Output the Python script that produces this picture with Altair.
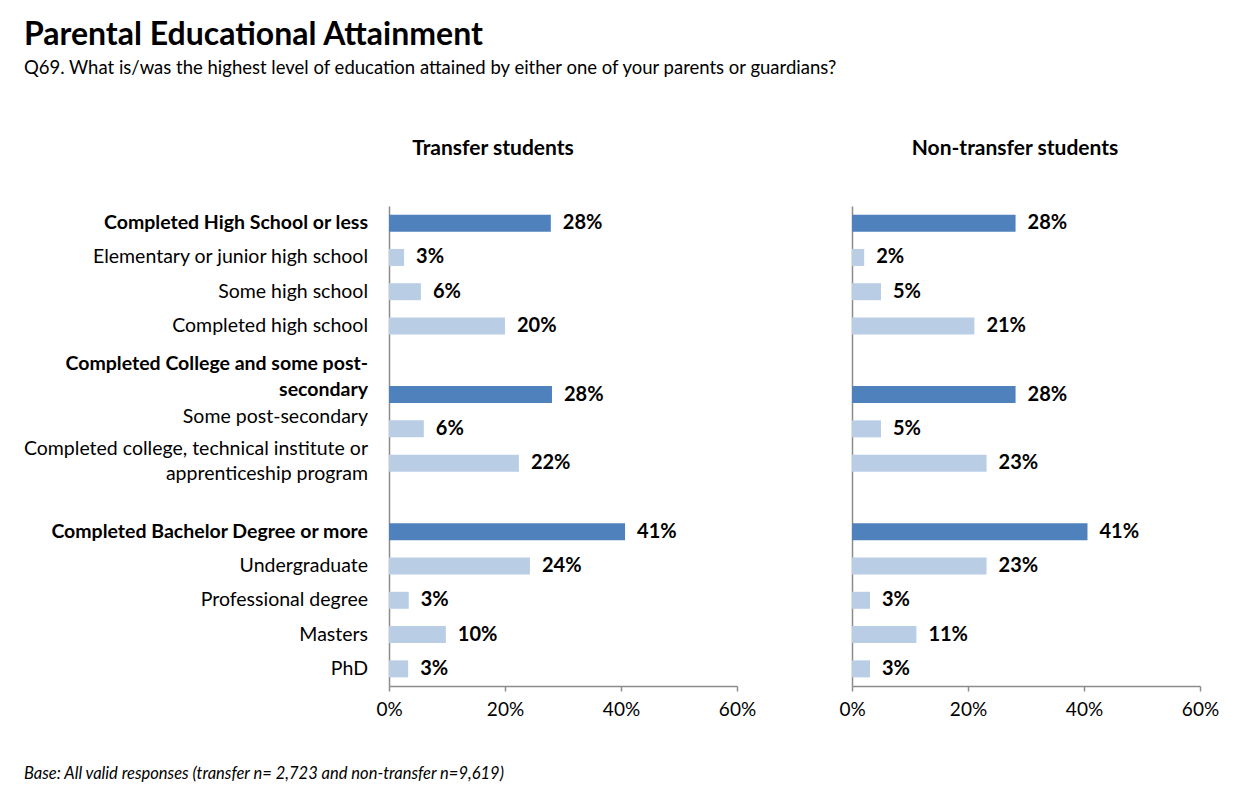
import altair as alt
import pandas as pd

labels = [
    "Completed High School or less",
    "Elementary or junior high school",
    "Some high school",
    "Completed high school",
    "Completed College and some post-secondary",
    "Some post-secondary",
    "Completed college, technical institute or apprenticeship program",
    "Completed Bachelor Degree or more",
    "Undergraduate",
    "Professional degree",
    "Masters",
    "PhD",
]
display_labels = [
    "Completed High School or less",
    "Elementary or junior high school",
    "Some high school",
    "Completed high school",
    "Completed College and some post-|secondary",
    "Some post-secondary",
    "Completed college, technical institute or|apprenticeship program",
    "Completed Bachelor Degree or more",
    "Undergraduate",
    "Professional degree",
    "Masters",
    "PhD",
]
is_header = [True, False, False, False, True, False, False, True, False, False, False, False]
transfer = [27.9, 2.6, 5.5, 20.0, 28.1, 6.0, 22.4, 40.7, 24.3, 3.4, 9.8, 3.3]
nontransfer = [28.2, 2.1, 5.0, 21.1, 28.2, 5.0, 23.2, 40.6, 23.2, 3.1, 11.1, 3.1]
x_ticks = [0, 20, 40, 60]

slot_order = labels[:4] + ["gap1"] + labels[4:7] + ["gap2"] + labels[7:]

FONT = "Lato"
W, H = 348, 480
LABEL_FS = 19.5
VALUE_FS = 20

def make_df(values):
    return pd.DataFrame({"cat": labels, "header": is_header, "v": values})

# one row per printed line of category label
line_rows = []
for idx, (cat, disp, hdr) in enumerate(zip(labels, display_labels, is_header)):
    parts = disp.split("|")
    for i, p in enumerate(parts):
        line_rows.append({"cat": cat, "idx": idx, "line": p, "header": hdr, "i": i, "n": len(parts)})
lines_df = pd.DataFrame(line_rows)

def line_dy(r):
    if r["n"] == 1:
        # label sitting just above a wrapped label is nudged up, as in the source
        nxt = r["idx"] + 1
        if nxt < len(labels) and "|" in display_labels[nxt] and not is_header[nxt]:
            return -12
        return 0
    if r["header"]:  # header wraps upward, last line sits just above the bar
        return [-31, -5][r["i"]]
    return [-14, 11][r["i"]]

y_scale = alt.Scale(domain=slot_order, paddingInner=0.5, paddingOuter=0.25)
y_enc = alt.Y(
    "cat:N",
    scale=y_scale,
    axis=alt.Axis(labels=False, ticks=False, title=None, domainColor="#8c8c8c", domainWidth=1.5),
)
x_enc = alt.X(
    "v:Q",
    scale=alt.Scale(domain=[0, 60]),
    axis=alt.Axis(
        values=x_ticks, labelExpr="datum.value + '%'", grid=False, title=None,
        tickColor="#8c8c8c", domainColor="#8c8c8c", domainWidth=1.5, tickWidth=1.5,
        tickSize=5, labelFontSize=19, labelFont=FONT, labelColor="#000",
        labelPadding=9, labelFlush=False,
    ),
)

def panel(values, title, title_dx, with_labels):
    df = make_df(values)
    base = alt.Chart(df)
    bars = base.mark_bar(size=17).encode(
        x=x_enc,
        y=y_enc,
        color=alt.condition("datum.header", alt.value("#4F81BD"), alt.value("#B9CDE5")),
    )
    vals = base.mark_text(align="left", baseline="middle", dx=12, fontSize=VALUE_FS,
                          fontWeight="bold", font=FONT, color="#000").encode(
        x="v:Q", y=alt.Y("cat:N", scale=y_scale),
        text=alt.Text("label:N"),
    ).transform_calculate(label="round(datum.v) + '%'")
    layers = [bars, vals]
    if with_labels:
        groups = {}
        for r in line_rows:
            key = (r["header"], line_dy(r))
            groups.setdefault(key, []).append(r["cat"] + "#" + str(r["i"]))
        for (hdr, dy), ids in groups.items():
            layers.append(
                alt.Chart(lines_df)
                .transform_calculate(key="datum.cat + '#' + datum.i")
                .transform_filter(alt.FieldOneOfPredicate(field="key", oneOf=ids))
                .mark_text(align="right", baseline="middle", fontSize=LABEL_FS, font=FONT,
                           fontWeight="bold" if hdr else "normal", color="#000", dy=dy)
                .encode(
                    x=alt.value(-21),
                    y=alt.Y("cat:N", scale=y_scale),
                    text="line:N",
                )
            )
        footer = alt.Chart(pd.DataFrame({"t": ["Base: All valid responses  (transfer n= 2,723 and non-transfer n=9,619)"]})).mark_text(
            align="left", baseline="middle", fontSize=16.5, font=FONT, fontStyle="italic", color="#000"
        ).encode(x=alt.value(-365), y=alt.value(H + 88), text="t:N")
        layers.append(footer)
    return alt.layer(*layers).properties(
        width=W, height=H,
        title=alt.TitleParams(title, fontSize=21, font=FONT, fontWeight="bold", color="#000",
                              anchor="middle", dx=title_dx, offset=47),
    )

left = panel(transfer, "Transfer students", -70, True)
right = panel(nontransfer, "Non-transfer students", -11, False)

chart = alt.hconcat(left, right, spacing=82).properties(
    title=alt.TitleParams(
        "Parental Educational Attainment",
        subtitle="Q69. What is/was the highest level of education attained by either one of your parents or guardians?",
        anchor="start", fontSize=32, font=FONT, fontWeight="bold", color="#000",
        subtitleFont=FONT, subtitleFontSize=18.5, subtitleColor="#000", subtitlePadding=7,
        offset=60,
    ),
    padding={"left": 15, "top": 10, "right": 5, "bottom": 5},
).configure_view(stroke=None)

chart.save("out.html", embed_options={"renderer": "svg", "actions": False})
